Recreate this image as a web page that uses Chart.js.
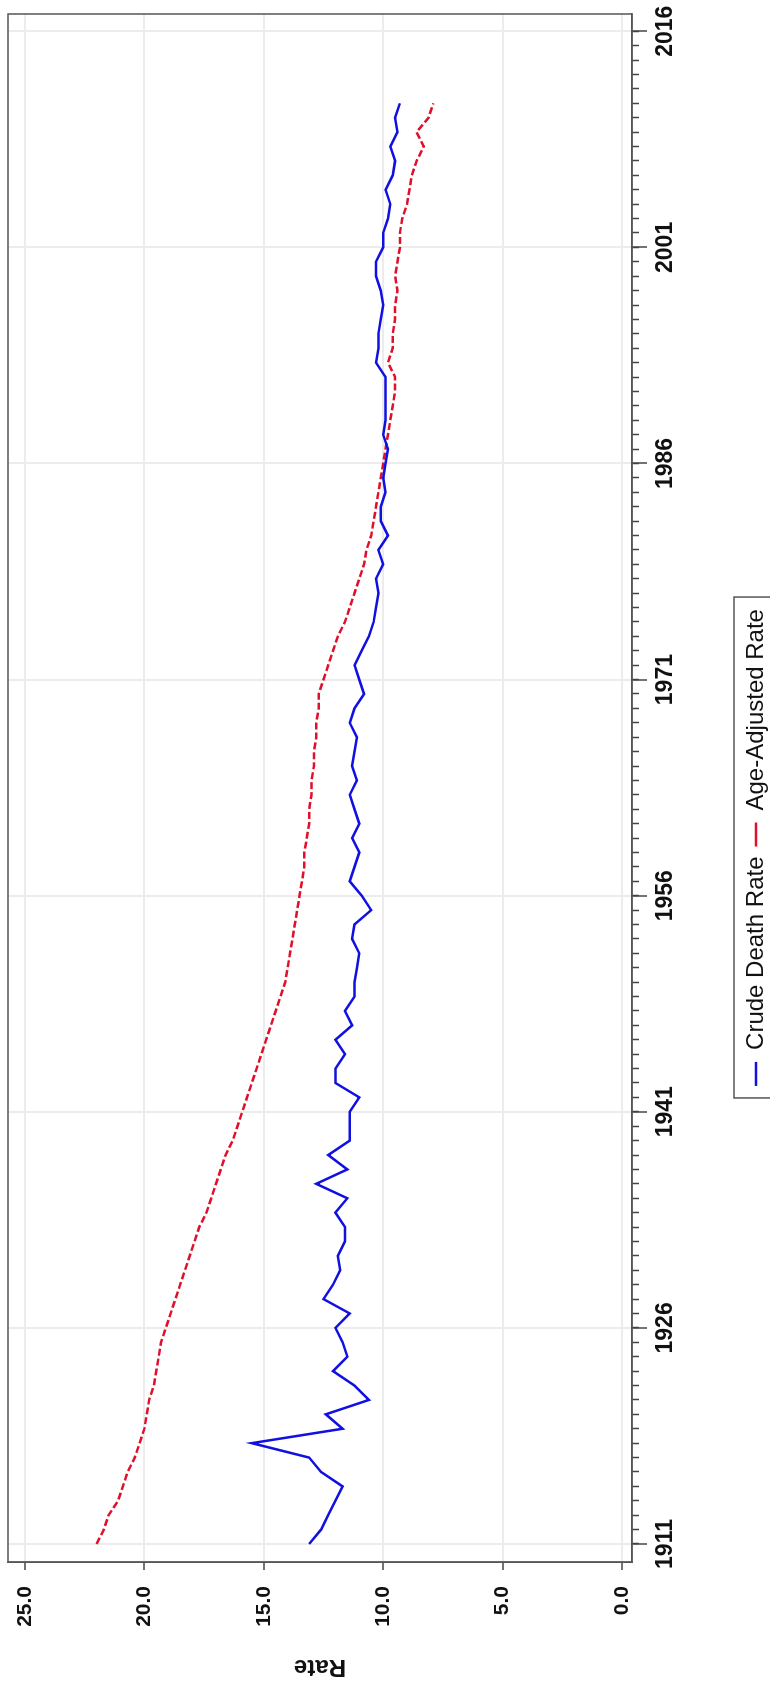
<!DOCTYPE html>
<html>
<head>
<meta charset="utf-8">
<script src="https://cdn.jsdelivr.net/npm/chart.js@4.4.1/dist/chart.umd.min.js"></script>
<style>
  html, body { margin: 0; padding: 0; background: #fff; overflow: hidden; }
  body { width: 770px; height: 1681px; position: relative; }
  /* the chart is drawn landscape and turned a quarter turn, like the scanned page */
  #wrap {
    position: absolute; left: 0; top: 0;
    width: 1681px; height: 790px;
    transform-origin: 0 0;
    transform: translate(0, 1681px) rotate(-90deg);
  }
</style>
</head>
<body>
<div id="wrap"><canvas id="chart" width="1681" height="790"></canvas></div>
<script>
const years = [
  1911, 1912, 1913, 1914, 1915, 1916, 1917, 1918, 1919, 1920,
  1921, 1922, 1923, 1924, 1925, 1926, 1927, 1928, 1929, 1930,
  1931, 1932, 1933, 1934, 1935, 1936, 1937, 1938, 1939, 1940,
  1941, 1942, 1943, 1944, 1945, 1946, 1947, 1948, 1949, 1950,
  1951, 1952, 1953, 1954, 1955, 1956, 1957, 1958, 1959, 1960,
  1961, 1962, 1963, 1964, 1965, 1966, 1967, 1968, 1969, 1970,
  1971, 1972, 1973, 1974, 1975, 1976, 1977, 1978, 1979, 1980,
  1981, 1982, 1983, 1984, 1985, 1986, 1987, 1988, 1989, 1990,
  1991, 1992, 1993, 1994, 1995, 1996, 1997, 1998, 1999, 2000,
  2001, 2002, 2003, 2004, 2005, 2006, 2007, 2008, 2009, 2010,
  2011
];

const crudeRate = [
  13.1, 12.6, 12.3, 12.0, 11.7, 12.6, 13.1, 15.5, 11.7, 12.4,
  10.6, 11.2, 12.1, 11.5, 11.7, 12.0, 11.4, 12.5, 12.1, 11.8,
  11.9, 11.6, 11.6, 12.0, 11.5, 12.8, 11.5, 12.3, 11.4, 11.4,
  11.4, 11.0, 12.0, 12.0, 11.6, 12.0, 11.3, 11.6, 11.2, 11.2,
  11.1, 11.0, 11.3, 11.2, 10.5, 10.9, 11.4, 11.2, 11.0, 11.3,
  11.0, 11.2, 11.4, 11.1, 11.3, 11.2, 11.1, 11.4, 11.2, 10.8,
  11.0, 11.2, 10.9, 10.6, 10.4, 10.3, 10.2, 10.3, 10.0, 10.2,
  9.8, 10.1, 10.1, 9.9, 10.0, 9.9, 9.8, 10.0, 9.9, 9.9,
  9.9, 9.9, 10.3, 10.2, 10.2, 10.1, 10.0, 10.1, 10.3, 10.3,
  10.0, 10.0, 9.8, 9.7, 9.9, 9.6, 9.5, 9.7, 9.4, 9.5,
  9.3
];

const ageAdjustedRate = [
  22.0, 21.7, 21.5, 21.1, 20.9, 20.7, 20.4, 20.2, 20.0, 19.9,
  19.8, 19.6, 19.5, 19.4, 19.3, 19.1, 18.9, 18.7, 18.5, 18.3,
  18.1, 17.9, 17.7, 17.4, 17.2, 17.0, 16.8, 16.6, 16.3, 16.1,
  15.9, 15.7, 15.5, 15.3, 15.1, 14.9, 14.7, 14.5, 14.3, 14.1,
  14.0, 13.9, 13.8, 13.7, 13.6, 13.5, 13.4, 13.3, 13.3, 13.2,
  13.1, 13.1, 13.0, 13.0, 12.9, 12.9, 12.8, 12.8, 12.7, 12.7,
  12.5, 12.3, 12.1, 11.9, 11.6, 11.4, 11.2, 11.0, 10.8, 10.7,
  10.5, 10.4, 10.3, 10.2, 10.1, 10.0, 9.9, 9.8, 9.7, 9.6,
  9.5, 9.5, 9.8, 9.6, 9.6, 9.5, 9.5, 9.4, 9.5, 9.4,
  9.3, 9.3, 9.2, 9.0, 8.9, 8.8, 8.6, 8.3, 8.6, 8.1,
  7.9
];

const yearTicks = [1911, 1926, 1941, 1956, 1971, 1986, 2001, 2016];
const rateTicks = [0, 5, 10, 15, 20, 25];

const fontFamily = "'Liberation Sans', Arial, sans-serif";
Chart.defaults.font.family = fontFamily;
Chart.defaults.color = '#111';

const xMin = 1909.75, xMax = 2017.2;

// box round the plot region
const frame = {
  id: 'frame',
  afterDraw(chart) {
    const a = chart.chartArea, ctx = chart.ctx;
    ctx.save();
    ctx.strokeStyle = '#555';
    ctx.lineWidth = 1.5;
    ctx.strokeRect(a.left, a.top, a.right - a.left, a.bottom - a.top);
    ctx.restore();
  }
};

// box round the legend, as R draws it
const legendBox = {
  id: 'legendBox',
  afterDraw(chart) {
    const boxes = chart.legend.legendHitBoxes;
    if (!boxes || !boxes.length) return;
    const left = Math.min(...boxes.map(b => b.left)) - 12;
    const right = Math.max(...boxes.map(b => b.left + b.width)) + 12;
    const top = boxes[0].top - 10;
    const bottom = boxes[0].top + boxes[0].height + 10;
    const ctx = chart.ctx;
    ctx.save();
    ctx.strokeStyle = '#555';
    ctx.lineWidth = 1.5;
    ctx.strokeRect(left, top, right - left, bottom - top);
    ctx.restore();
  }
};

function toPoints(values) {
  return values.map((v, i) => ({ x: years[i], y: v }));
}

new Chart(document.getElementById('chart'), {
  type: 'line',
  data: {
    datasets: [{
      label: 'Crude Death Rate',
      data: toPoints(crudeRate),
      borderColor: '#1010e0',
      backgroundColor: '#1010e0',
      borderWidth: 2.5,
      pointRadius: 0,
      tension: 0
    }, {
      label: 'Age-Adjusted Rate',
      data: toPoints(ageAdjustedRate),
      borderColor: '#e0102c',
      backgroundColor: '#e0102c',
      borderWidth: 2.5,
      borderDash: [7, 3],
      pointRadius: 0,
      tension: 0
    }]
  },
  options: {
    responsive: false,
    animation: false,
    layout: { padding: { left: 0, right: 14, top: 8, bottom: 12 } },
    scales: {
      xMinor: {
        type: 'linear', position: 'bottom', weight: 0,
        min: xMin, max: xMax,
        afterBuildTicks: s => {
          const t = [];
          for (let y = yearTicks[0]; y <= yearTicks[yearTicks.length - 1]; y++) t.push({ value: y });
          s.ticks = t;
        },
        afterFit: s => { s.height = 0; s.paddingLeft = 0; s.paddingRight = 0; },
        grid: { drawOnChartArea: false, tickLength: 7, tickColor: '#444', tickWidth: 1.5 },
        border: { display: false },
        ticks: { display: false }
      },
      x: {
        type: 'linear', position: 'bottom', weight: 1,
        min: xMin, max: xMax,
        afterBuildTicks: s => { s.ticks = yearTicks.map(v => ({ value: v })); },
        afterFit: s => { s.height = 102; s.paddingLeft = 0; s.paddingRight = 0; },
        grid: { color: '#ececec', lineWidth: 2, tickLength: 15, tickColor: '#444', tickWidth: 1.5 },
        border: { color: '#555', width: 1.5 },
        ticks: {
          autoSkip: false, maxRotation: 0, padding: 5,
          font: { size: 23, weight: 'bold' },
          callback: v => String(v)
        }
      },
      y: {
        min: -0.42, max: 25.71,
        afterBuildTicks: s => { s.ticks = rateTicks.map(v => ({ value: v })); },
        afterFit: s => { s.width = 119; s.paddingTop = 0; s.paddingBottom = 0; },
        grid: { color: '#ececec', lineWidth: 2, tickLength: 8, tickColor: '#444', tickWidth: 1.5 },
        border: { color: '#555', width: 1.5 },
        ticks: {
          padding: 16,
          font: { size: 21, weight: 'bold' },
          callback: v => v.toFixed(1)
        },
        title: {
          display: true, text: 'Rate', padding: 0,
          font: { size: 24, weight: 'bold' }
        }
      }
    },
    plugins: {
      legend: {
        position: 'bottom',
        labels: {
          usePointStyle: true, pointStyle: 'line', pointStyleWidth: 24,
          padding: 10,
          font: { size: 24 },
          color: '#111',
          generateLabels: chart => {
            const items = Chart.defaults.plugins.legend.labels.generateLabels(chart);
            // the key's dashes are longer than the plotted ones
            items.forEach(it => { if (it.lineDash && it.lineDash.length) it.lineDash = [8, 6]; });
            return items;
          }
        }
      },
      tooltip: { enabled: false }
    }
  },
  plugins: [frame, legendBox]
});
</script>
</body>
</html>
